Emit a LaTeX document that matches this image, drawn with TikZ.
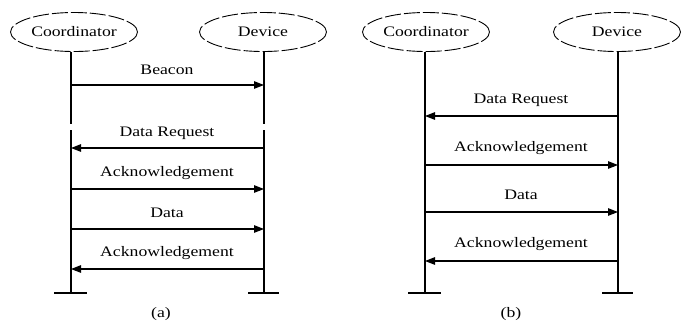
\documentclass[tikz,border=0pt]{standalone}
\usepackage{fontspec}
\setmainfont{Liberation Serif}[FakeStretch=1.22]
\usetikzlibrary{shapes.geometric,arrows.meta}
\tikzset{
  actor/.style={ellipse, draw, dash pattern=on 16pt off 3pt, line width=0.9pt, minimum width=127pt, minimum height=39pt, inner sep=0pt, font=\fontsize{14.5}{16}\selectfont},
  life/.style={line width=1.1pt},
  msg/.style={line width=1.1pt, -{Triangle[length=10pt,width=7.5pt]}},
  lbl/.style={font=\fontsize{14.5}{16}\selectfont, inner sep=0pt},
  captext/.style={font=\fontsize{14.5}{16}\selectfont, inner sep=0pt}
}
\begin{document}
\begin{tikzpicture}[x=1pt,y=-1pt]
\useasboundingbox (0,0) rectangle (688,325);
% ---------- (a) ----------
\node[actor] (ca) at (74,32) {Coordinator};
\node[actor] (da) at (263,32) {Device};
\coordinate (ca1) at (71,124); \coordinate (ca2) at (71,130); \coordinate (caB) at (71,293);
\coordinate (da1) at (264,124); \coordinate (da2) at (264,130); \coordinate (daB) at (264,293);
\draw[life] (ca.south -| caB) -- (ca1);
\draw[life] (ca2) -- (caB);
\draw[life] (da.south -| daB) -- (da1);
\draw[life] (da2) -- (daB);
\coordinate (caL) at (54,293); \coordinate (caR) at (87,293);
\coordinate (daL) at (248,293); \coordinate (daR) at (279,293);
\draw[life] (caL) -- (caR);
\draw[life] (daL) -- (daR);
\coordinate (a1c) at (71,85);  \coordinate (a1d) at (264,85);
\coordinate (a2c) at (71,148); \coordinate (a2d) at (264,148);
\coordinate (a3c) at (71,189); \coordinate (a3d) at (264,189);
\coordinate (a4c) at (71,229); \coordinate (a4d) at (264,229);
\coordinate (a5c) at (71,269); \coordinate (a5d) at (264,269);
\draw[msg] (a1c) -- (a1d);
\draw[msg] (a2d) -- (a2c);
\draw[msg] (a3c) -- (a3d);
\draw[msg] (a4c) -- (a4d);
\draw[msg] (a5d) -- (a5c);
\node[lbl] (la1) at (167,70) {Beacon};
\node[lbl] (la2) at (167,133) {Data Request};
\node[lbl] (la3) at (167,173) {Acknowledgement};
\node[lbl] (la4) at (167,213) {Data};
\node[lbl] (la5) at (167,253) {Acknowledgement};
\node[captext] (capa) at (161,314) {(a)};
% ---------- (b) ----------
\node[actor] (cb) at (426,32) {Coordinator};
\node[actor] (db) at (617,32) {Device};
\coordinate (cbB) at (425,293); \coordinate (dbB) at (618,293);
\draw[life] (cb.south -| cbB) -- (cbB);
\draw[life] (db.south -| dbB) -- (dbB);
\coordinate (cbL) at (408,293); \coordinate (cbR) at (441,293);
\coordinate (dbL) at (602,293); \coordinate (dbR) at (633,293);
\draw[life] (cbL) -- (cbR);
\draw[life] (dbL) -- (dbR);
\coordinate (b1c) at (425,116); \coordinate (b1d) at (618,116);
\coordinate (b2c) at (425,165); \coordinate (b2d) at (618,165);
\coordinate (b3c) at (425,212); \coordinate (b3d) at (618,212);
\coordinate (b4c) at (425,261); \coordinate (b4d) at (618,261);
\draw[msg] (b1d) -- (b1c);
\draw[msg] (b2c) -- (b2d);
\draw[msg] (b3c) -- (b3d);
\draw[msg] (b4d) -- (b4c);
\node[lbl] (lb1) at (521,100) {Data Request};
\node[lbl] (lb2) at (521,148) {Acknowledgement};
\node[lbl] (lb3) at (521,195) {Data};
\node[lbl] (lb4) at (521,244) {Acknowledgement};
\node[captext] (capb) at (511,314) {(b)};
\end{tikzpicture}
\end{document}
